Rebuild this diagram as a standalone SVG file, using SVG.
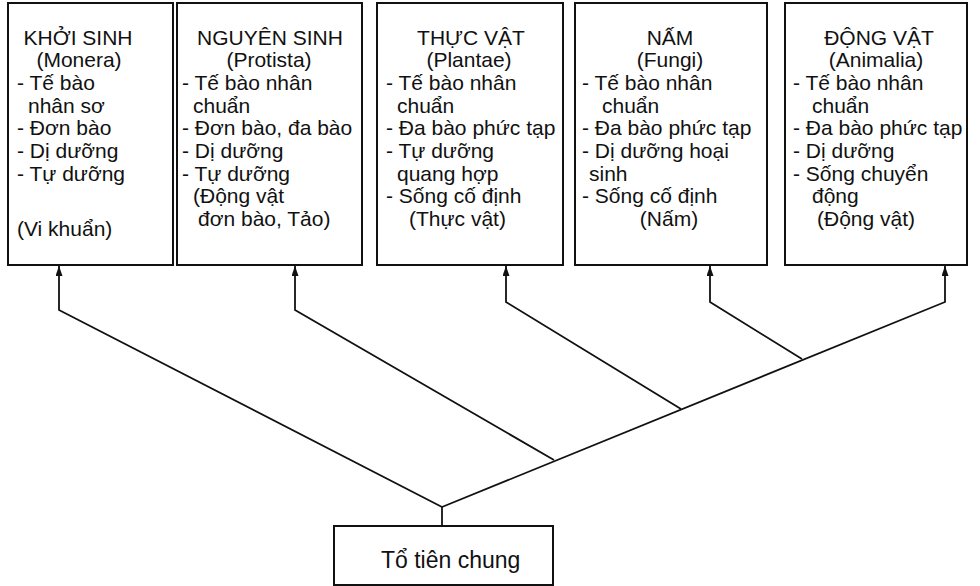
<svg xmlns="http://www.w3.org/2000/svg" width="980" height="586" viewBox="0 0 980 586">
<defs>
<style>
.box{fill:#fff;stroke:#111;stroke-width:2}
.t{font-family:"Liberation Sans",Arial,sans-serif;font-size:21px;fill:#111}
.c{text-anchor:middle}
.big{font-size:23px}
.ln{fill:none;stroke:#111;stroke-width:1.8;stroke-linejoin:miter}
</style>
<marker id="ah" viewBox="0 0 10 7" refX="10" refY="3.5" markerWidth="10" markerHeight="7" markerUnits="userSpaceOnUse" orient="auto">
<path d="M0,0 L10,3.5 L0,7 z" fill="#111"/>
</marker>
</defs>
<rect width="980" height="586" fill="#fff"/>

<g id="connectors">
<path class="ln" d="M442,507 L59,310 L59,266" marker-end="url(#ah)"/>
<path class="ln" d="M554,460 L295,310 L295,266" marker-end="url(#ah)"/>
<path class="ln" d="M681,409 L506,302 L506,266" marker-end="url(#ah)"/>
<path class="ln" d="M802,359 L710,302 L710,266" marker-end="url(#ah)"/>
<path class="ln" d="M442,507 L945,302 L945,266" marker-end="url(#ah)"/>
<path class="ln" d="M442,507 L442,526"/>
</g>

<g id="monera">
<rect class="box" x="8" y="3" width="165" height="262"/>
<text class="t c" x="78" y="45">KHỞI SINH</text>
<text class="t c" x="79" y="67">(Monera)</text>
<text class="t" x="17" y="90">- Tế bào</text>
<text class="t" x="28" y="113">nhân sơ</text>
<text class="t" x="17" y="135">- Đơn bào</text>
<text class="t" x="17" y="158">- Dị dưỡng</text>
<text class="t" x="17" y="181">- Tự dưỡng</text>
<text class="t" x="17" y="236">(Vi khuẩn)</text>
</g>

<g id="protista">
<rect class="box" x="177" y="3" width="185" height="262"/>
<text class="t c" x="270" y="45">NGUYÊN SINH</text>
<text class="t c" x="269" y="67">(Protista)</text>
<text class="t" x="182" y="90">- Tế bào nhân</text>
<text class="t" x="193" y="113">chuẩn</text>
<text class="t" x="182" y="135">- Đơn bào, đa bào</text>
<text class="t" x="182" y="158">- Dị dưỡng</text>
<text class="t" x="182" y="181">- Tự dưỡng</text>
<text class="t" x="193" y="203">(Động vật</text>
<text class="t" x="198" y="226">đơn bào, Tảo)</text>
</g>

<g id="plantae">
<rect class="box" x="377" y="3" width="186" height="262"/>
<text class="t c" x="471" y="45">THỰC VẬT</text>
<text class="t c" x="469" y="67">(Plantae)</text>
<text class="t" x="386" y="90">- Tế bào nhân</text>
<text class="t" x="397" y="113">chuẩn</text>
<text class="t" x="386" y="135">- Đa bào phức tạp</text>
<text class="t" x="386" y="158">- Tự dưỡng</text>
<text class="t" x="397" y="181">quang hợp</text>
<text class="t" x="386" y="203">- Sống cố định</text>
<text class="t" x="409" y="226">(Thực vật)</text>
</g>

<g id="fungi">
<rect class="box" x="575" y="3" width="192" height="262"/>
<text class="t c" x="670" y="45">NẤM</text>
<text class="t c" x="670" y="67">(Fungi)</text>
<text class="t" x="582" y="90">- Tế bào nhân</text>
<text class="t" x="602" y="113">chuẩn</text>
<text class="t" x="582" y="135">- Đa bào phức tạp</text>
<text class="t" x="582" y="158">- Dị dưỡng hoại</text>
<text class="t" x="589" y="181">sinh</text>
<text class="t" x="582" y="203">- Sống cố định</text>
<text class="t c" x="669" y="226">(Nấm)</text>
</g>

<g id="animalia">
<rect class="box" x="785" y="3" width="182" height="262"/>
<text class="t c" x="879" y="45">ĐỘNG VẬT</text>
<text class="t c" x="876" y="67">(Animalia)</text>
<text class="t" x="793" y="90">- Tế bào nhân</text>
<text class="t" x="812" y="113">chuẩn</text>
<text class="t" x="793" y="135">- Đa bào phức tạp</text>
<text class="t" x="793" y="158">- Dị dưỡng</text>
<text class="t" x="793" y="181">- Sống chuyển</text>
<text class="t" x="812" y="203">động</text>
<text class="t" x="817" y="226">(Động vật)</text>
</g>

<g id="ancestor">
<rect class="box" x="334" y="526" width="219" height="59"/>
<text class="t big" x="381" y="568">Tổ tiên chung</text>
</g>
</svg>
